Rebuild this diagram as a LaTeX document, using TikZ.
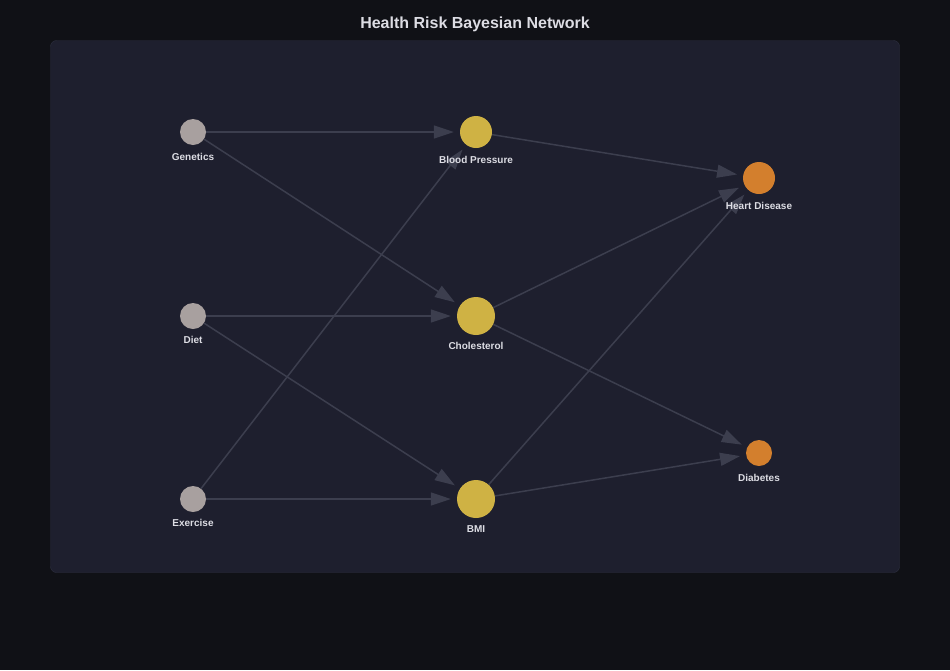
\documentclass[tikz,border=0pt]{standalone}
\usepackage{fontspec}
\setmainfont{Liberation Sans}
\usepackage{tikz}
\usetikzlibrary{arrows.meta}
\definecolor{pagebg}{HTML}{101116}
\definecolor{panelbg}{HTML}{1E1F2E}
\definecolor{panelrim}{HTML}{2E3040}
\definecolor{edgecol}{HTML}{3C3E4E}
\definecolor{rootcol}{HTML}{A8A09F}
\definecolor{midcol}{HTML}{CFB244}
\definecolor{leafcol}{HTML}{D37F2D}
\definecolor{textcol}{HTML}{DDDDE4}
\pgfdeclarelayer{back}
\pgfdeclarelayer{edges}
\pgfsetlayers{back,edges,main}
\tikzstyle{var_node}=[circle, inner sep=0pt, draw=none]
\tikzstyle{var_root}=[var_node, fill=rootcol, minimum size=26pt]
\tikzstyle{var_mid}=[var_node, fill=midcol]
\tikzstyle{var_leaf}=[var_node, fill=leafcol]
\tikzstyle{var_label}=[text=textcol, font=\bfseries\fontsize{10}{12}\selectfont, inner sep=0pt]
\tikzstyle{dep_edge}=[draw=edgecol, line width=1.5pt, -{Triangle[length=20pt,width=13pt]}, shorten >=6pt]

\begin{document}
\begin{tikzpicture}[x=1pt, y=-1pt]
          \begin{pgfonlayer}{back}
          \fill[pagebg] (0,0) rectangle (950,670);
          \draw[panelrim, fill=panelbg, rounded corners=6pt] (50.5,40.5) rectangle (899.5,572.5);
          \end{pgfonlayer}
          \node[text=textcol, font=\bfseries\fontsize{16}{19}\selectfont] (title) at (475,24){Health Risk Bayesian Network};
          % parents
          \node[var_root] (gen) at (193,132){};
          \node[var_label] (genlbl) at (193,157){Genetics};
          \node[var_root] (diet) at (193,316){};
          \node[var_label] (dietlbl) at (193,340){Diet};
          \node[var_root] (exer) at (193,499){};
          \node[var_label] (exerlbl) at (193,523){Exercise};
          % middle
          \node[var_mid, minimum size=32pt] (bp) at (476,132){};
          \node[var_label] (bplbl) at (476,160){Blood Pressure};
          \node[var_mid, minimum size=38pt] (chol) at (476,316){};
          \node[var_label] (chollbl) at (476,346){Cholesterol};
          \node[var_mid, minimum size=38pt] (bmi) at (476,499){};
          \node[var_label] (bmilbl) at (476,529){BMI};
          % outcomes
          \node[var_leaf, minimum size=32pt] (heart) at (759,178){};
          \node[var_label] (heartlbl) at (759,206){Heart Disease};
          \node[var_leaf, minimum size=26pt] (diab) at (759,453){};
          \node[var_label] (diablbl) at (759,478){Diabetes};
          \begin{pgfonlayer}{edges}
          \draw[dep_edge](gen) -- (bp);
          \draw[dep_edge](gen) -- (chol);
          \draw[dep_edge](diet) -- (chol);
          \draw[dep_edge](diet) -- (bmi);
          \draw[dep_edge](exer) -- (bp);
          \draw[dep_edge](exer) -- (bmi);
          \draw[dep_edge](bp) -- (heart);
          \draw[dep_edge](chol) -- (heart);
          \draw[dep_edge](chol) -- (diab);
          \draw[dep_edge](bmi) -- (heart);
          \draw[dep_edge](bmi) -- (diab);
          \end{pgfonlayer}
        \end{tikzpicture}
\end{document}
